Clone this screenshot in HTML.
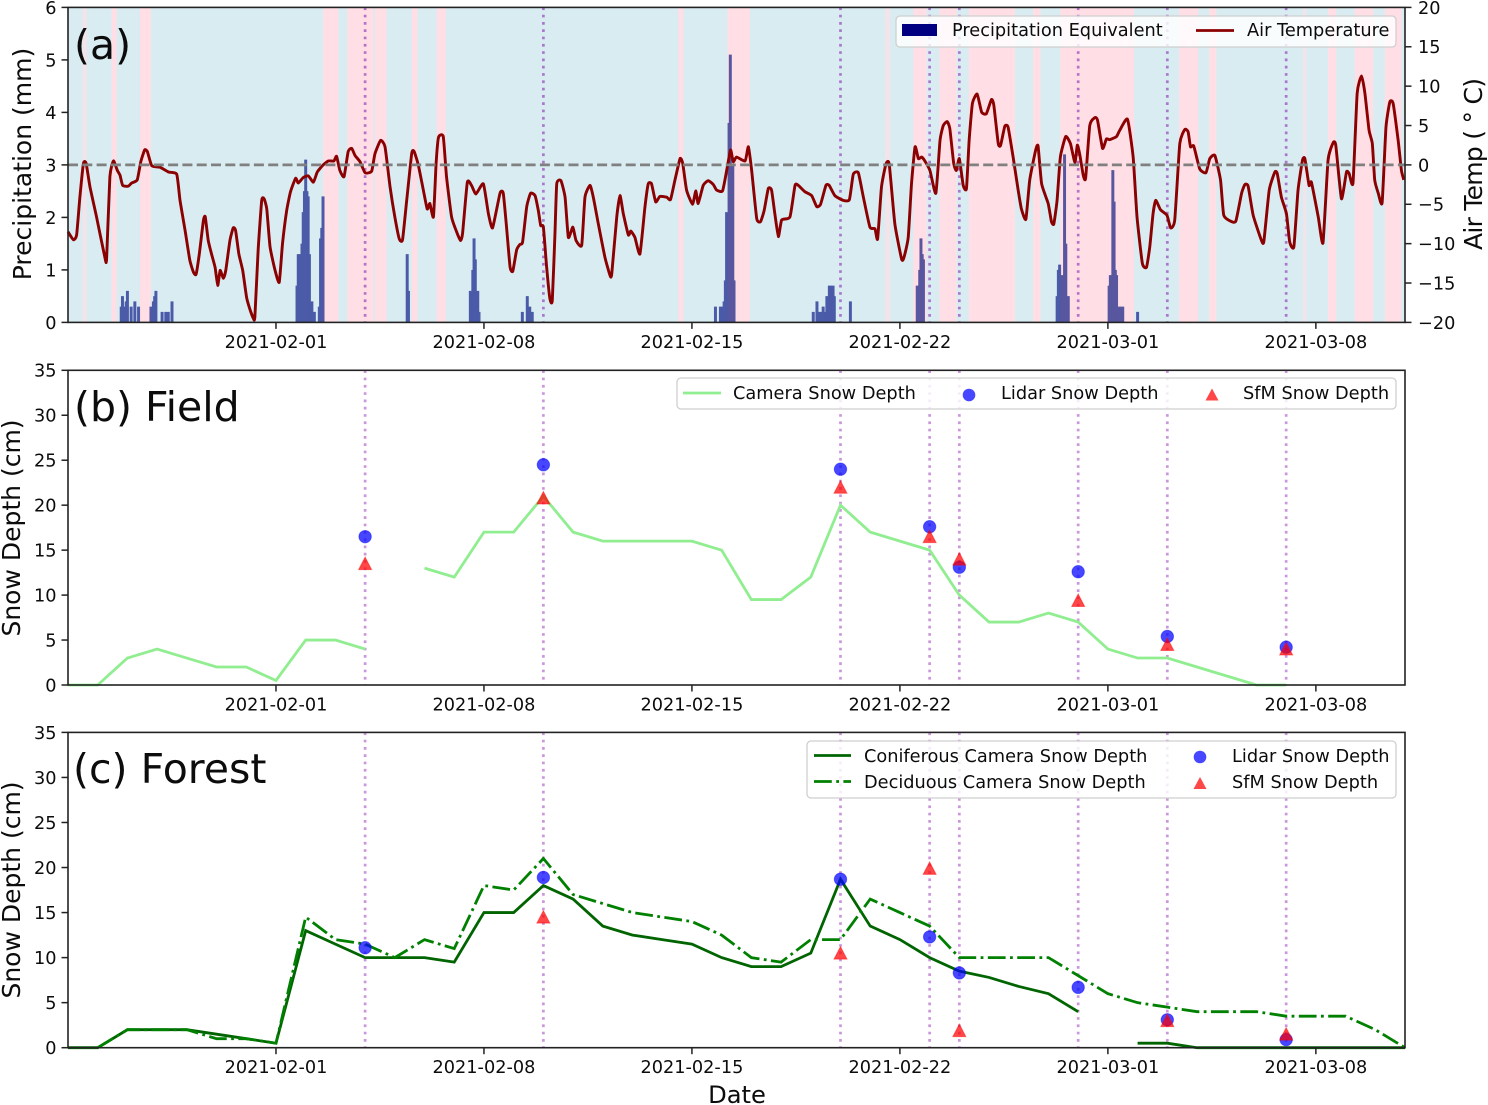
<!DOCTYPE html>
<html lang="en">
<head>
<meta charset="utf-8">
<title>Precipitation, air temperature and snow depth</title>
<style>
html,body{margin:0;padding:0;background:#fff;}
svg{display:block;font-family:"DejaVu Sans","Liberation Sans",sans-serif;fill:#0c0c0c;}
.tick{font-size:17.7px;}
.leg{font-size:17.75px;}
.ylab{font-size:25px;}
.ptitle{font-size:41px;}
</style>
</head>
<body>
<svg id="figure" width="1488" height="1105" viewBox="0 0 1488 1105" xmlns="http://www.w3.org/2000/svg">
  <g id="panel-a"></g>
  <g id="panel-b"></g>
  <g id="panel-c"></g>

  <text class="ptitle" x="74" y="59">(a)</text>
  <text class="ptitle" x="74" y="421">(b) Field</text>
  <text class="ptitle" x="73" y="783">(c) Forest</text>

  <text class="ylab" transform="translate(31,164) rotate(-90)" text-anchor="middle">Precipitation (mm)</text>
  <text class="ylab" transform="translate(1482,164) rotate(-90)" text-anchor="middle" textLength="172" lengthAdjust="spacing">Air Temp ( ° C)</text>
  <text class="ylab" transform="translate(20,528) rotate(-90)" text-anchor="middle">Snow Depth (cm)</text>
  <text class="ylab" transform="translate(20,890) rotate(-90)" text-anchor="middle">Snow Depth (cm)</text>
  <text class="ylab" style="font-size:24.2px" x="737" y="1103" text-anchor="middle">Date</text>

  <g>
    <rect x="896" y="16" width="500" height="31" rx="4" fill="#fff" fill-opacity="0.82" stroke="#cfcfcf" stroke-width="1.3"/>
    <rect x="902" y="24" width="35" height="12" fill="#000080"/>
    <text class="leg" x="952" y="36">Precipitation Equivalent</text>
    <line x1="1196" x2="1234" y1="30.5" y2="30.5" stroke="#8b0000" stroke-width="2.8"/>
    <text class="leg" x="1247" y="36">Air Temperature</text>
  </g>

  <g>
    <rect x="677" y="378" width="719" height="31" rx="4" fill="#fff" fill-opacity="0.82" stroke="#cfcfcf" stroke-width="1.3"/>
    <line x1="683" x2="721" y1="393" y2="393" stroke="#90ee90" stroke-width="2.8"/>
    <text class="leg" x="733" y="399">Camera Snow Depth</text>
    <circle cx="969" cy="395" r="6.3" fill="#0000ff" fill-opacity="0.72"/>
    <text class="leg" x="1001" y="399">Lidar Snow Depth</text>
    <path d="M1212 388.5L1218.5 400.5H1205.5Z" fill="#ff0000" fill-opacity="0.72"/>
    <text class="leg" x="1243" y="399">SfM Snow Depth</text>
  </g>

  <g>
    <rect x="807" y="741" width="589" height="57" rx="4" fill="#fff" fill-opacity="0.82" stroke="#cfcfcf" stroke-width="1.3"/>
    <line x1="814" x2="851" y1="755.5" y2="755.5" stroke="#006400" stroke-width="2.8"/>
    <text class="leg" x="864" y="762">Coniferous Camera Snow Depth</text>
    <line x1="814" x2="851" y1="781.5" y2="781.5" stroke="#008000" stroke-width="2.8" stroke-dasharray="17.8 4.4 2.8 4.4"/>
    <text class="leg" x="864" y="788">Deciduous Camera Snow Depth</text>
    <circle cx="1200" cy="757" r="6.3" fill="#0000ff" fill-opacity="0.72"/>
    <text class="leg" x="1232" y="762">Lidar Snow Depth</text>
    <path d="M1200 777L1206.5 789H1193.5Z" fill="#ff0000" fill-opacity="0.72"/>
    <text class="leg" x="1232" y="788">SfM Snow Depth</text>
  </g>
</svg>

<script>
// ---- shared axis data ----
const dateTickDays = [7, 14, 21, 28, 35, 42];
const dateTickLabels = ["2021-02-01", "2021-02-08", "2021-02-15", "2021-02-22", "2021-03-01", "2021-03-08"];
const surveyDays = [10, 16, 26, 29, 30, 34, 37, 41];
const precipTicks = [0, 1, 2, 3, 4, 5, 6];
const tempTicks = [-20, -15, -10, -5, 0, 5, 10, 15, 20];
const depthTicks = [0, 5, 10, 15, 20, 25, 30, 35];

// ---- panel (a): days since 2021-01-25 ----
const warmStart = [1.47, 2.42, 8.59, 9.40, 10.33, 11.57, 12.41, 20.54, 22.20, 28.45, 29.33, 30.32, 32.48, 33.40, 37.40, 38.41, 42.41, 43.31, 44.32];
const warmEnd   = [1.64, 2.79, 9.10, 10.28, 10.72, 11.76, 12.72, 20.71, 22.95, 28.90, 29.91, 31.87, 32.73, 35.88, 38.04, 38.65, 42.69, 43.93, 44.88];
const faintWarmStart = [0.49, 27.50, 41.57];
const faintWarmEnd = [0.63, 27.67, 41.68];

const tempDays = [
0,.18,.29,.4,.52,.61,.74,.96,1.25,1.3,
1.41,1.53,1.66,1.75,1.84,2.03,2.14,2.33,2.45,2.58,
2.67,2.82,3.1,3.38,3.66,3.77,3.94,4.1,4.22,4.31,
4.42,4.56,4.62,4.72,4.83,4.95,5.04,5.12,5.23,5.31,
5.45,5.56,5.64,5.75,5.88,6.01,6.12,6.24,6.29,6.4,
6.52,6.6,6.69,6.8,6.97,7.11,7.22,7.36,7.49,7.66,
7.75,7.92,8.09,8.26,8.39,8.59,8.76,8.95,9.04,9.15,
9.29,9.43,9.55,9.66,9.83,10,10.22,10.33,10.52,10.67,
10.84,11,11.15,11.26,11.4,11.57,11.65,11.79,11.96,12.09,
12.18,12.3,12.39,12.47,12.63,12.74,12.91,13.08,13.21,13.28,
13.44,13.58,13.73,13.98,14.15,14.29,14.54,14.65,14.76,14.88,
14.97,15.1,15.21,15.3,15.44,15.57,15.72,15.83,15.91,16,
16.11,16.22,16.3,16.39,16.45,16.59,16.73,16.84,16.99,17.1,
17.29,17.4,17.57,17.68,17.85,18.07,18.24,18.3,18.47,18.58,
18.69,18.86,18.94,19.08,19.25,19.42,19.53,19.64,19.78,19.92,
20.15,20.28,20.43,20.6,20.69,20.82,21.02,21.13,21.21,21.38,
21.55,21.72,21.83,22.03,22.17,22.3,22.39,22.5,22.79,22.9,
23.01,23.18,23.31,23.43,23.57,23.68,23.79,23.91,24.02,24.3,
24.47,24.58,24.8,25.03,25.2,25.33,25.51,25.62,25.81,26.09,
26.3,26.43,26.6,26.77,26.99,27.16,27.25,27.38,27.53,27.64,
27.83,28.06,28.14,28.28,28.39,28.51,28.62,28.73,28.84,29.01,
29.21,29.35,29.46,29.59,29.68,29.81,29.9,30,30.13,30.24,
30.33,30.44,30.6,30.75,30.91,31.08,31.16,31.31,31.39,31.53,
31.64,31.81,31.98,32.09,32.24,32.37,32.57,32.65,32.77,32.99,
33.1,33.18,33.29,33.4,33.58,33.74,33.89,33.97,34.05,34.17,
34.25,34.39,34.56,34.65,34.82,34.95,35.06,35.29,35.4,35.66,
35.85,35.98,36.16,36.3,36.41,36.52,36.61,36.77,36.99,37.11,
37.25,37.42,37.59,37.7,37.78,37.89,38.09,38.3,38.43,38.6,
38.79,38.9,39.16,39.31,39.5,39.61,39.72,39.89,40.17,40.25,
40.43,40.62,40.7,40.84,41.01,41.12,41.26,41.4,41.55,41.63,
41.77,41.85,42.08,42.24,42.41,42.58,42.67,42.86,43.03,43.12,
43.25,43.39,43.54,43.65,43.79,43.9,43.98,44.1,44.23,44.36,
44.49,44.6,44.77,44.88,44.96
];
const tempValues = [
-8.5,-9.5,-8.9,-4.1,.2,.2,-2.8,-6.6,-11.9,-11.9,
-1.5,.5,-.7,-1.3,-2.6,-2.7,-2.3,-1.9,.4,1.9,
1.7,-.1,-.3,-.9,-1.2,-4.5,-8.3,-12.1,-13.6,-13.9,
-11.3,-7,-6.6,-9.6,-11.3,-13,-15.3,-13.4,-14.4,-13.4,
-9.6,-8,-8.3,-11.3,-13.4,-16.8,-18.3,-19.5,-19.3,-10.8,
-4.5,-4.3,-5.6,-10.4,-13.4,-14.9,-10,-5.8,-3.4,-1.7,
-2.3,-1.6,-1.4,-2.2,-.9,0,.5,.5,1.1,-.7,
-1.5,1.7,2.1,1.2,.4,-1,-.8,1.4,3.1,2.3,
-2.8,-6.6,-9.4,-9.5,-4.5,1.5,1.7,0,-3.2,-5.6,
-4.9,-6.6,.2,3.5,3.6,-1.5,-6.6,-8.5,-9.6,-8.7,
-2.2,-2.6,-3.7,-2.4,-6.2,-8,-3.6,-3.6,-7.9,-13,
-13.5,-10.8,-10.1,-9.8,-5.3,-3.6,-3.9,-5.8,-7.7,-7.9,
-13,-17,-17.2,-8.7,-2.4,-2,-4.1,-9.2,-7.9,-9.6,
-10.2,-4.1,-2.6,-4.1,-7.5,-11.7,-14,-13.9,-6.6,-3.9,
-6.2,-8.9,-8.4,-9.2,-11.3,-5.3,-2.4,-2.4,-4.7,-4,
-4.1,-4.4,-1.9,.8,.2,-3.2,-5,-3.3,-4.9,-2.6,
-2,-2.5,-3.2,-3.3,-.7,1.9,.4,1,.5,2.3,
-.7,-6.8,-7.2,-5.8,-3,-3.2,-6.2,-9.1,-7,-6.6,
-2.6,-2.6,-3.4,-3.9,-5.3,-5,-2.6,-2.6,-3.9,-4.5,
-4.4,-1.2,-1,-4.1,-7.9,-8.1,-9.4,-2.8,.1,.1,
-7.5,-12,-11.7,-9.2,-2.4,2.3,.8,1,.5,-.7,
-3.6,3.1,5,5.5,4.6,.2,-.7,.8,-2.6,-3,
3.1,7.8,9,6.7,6.5,8.3,7.6,2.7,2.5,4.9,
4.8,1,-3.2,-5.6,-6.9,-1.9,1.9,2.4,-2.4,-4.9,
-7.2,-7.5,-4.5,1,3.6,2.7,.3,2.5,1.4,-1.3,
-1.7,5,6,5.7,2.1,3.3,3.2,3.6,4.4,5.8,
1,-6.6,-12.5,-13,-10.4,-6.2,-4.5,-5.7,-6.4,-8,
-7,2.7,4.5,4.2,2.3,2.4,-.5,-1,.8,1.2,
-1.9,-6.4,-7.2,-7.1,-3.6,-2.5,-2.7,-6.4,-9.6,-9.7,
-3.2,-.9,-1.1,-4.1,-6.2,-9.8,-10.4,-3.2,.6,.8,
-2.6,-2.2,-6.6,-9.9,.6,2.8,2.5,-4.3,-.9,-1.1,
-2.3,9.1,11.3,9.1,4.4,2.7,-1.9,-3.6,-4.8,4.8,
8,7.8,3.1,-.7,-1.9
];

// hour index since start of 2021-01-25 and precipitation equivalent (mm)
const precipHours = [
42,43,44,45,46,47,48,50,51,53,54,56,57,
66,67,68,69,70,71,75,76,78,79,80,81,83,84,
184,185,186,187,188,189,190,191,192,193,194,195,196,197,198,199,
202,203,204,205,206,
273,274,275,
324,325,326,327,328,329,330,331,332,
366,367,370,371,372,373,374,375,
522,523,526,527,528,529,530,531,532,533,534,535,536,537,538,
601,602,604,605,606,607,608,609,610,611,612,613,614,615,616,617,618,619,
631,632,
685,686,687,688,689,690,691,
798,799,800,801,802,803,804,805,806,807,808,
840,841,842,843,844,845,846,847,848,849,850,851,852,
863,864
];
const precipValues = [
.3,.5,.5,.3,.4,.6,.6,.3,.3,.4,.4,.3,.3,
.3,.3,.4,.5,.6,.6,.2,.2,.2,.2,.2,.2,.4,.4,
.7,1.3,1.3,1.3,1.5,2.1,2.5,3.1,3.1,2.5,2.4,1.3,.4,.4,.2,.2,
.3,1.6,1.8,2.4,2.4,
1.3,1.3,.6,
.6,.6,1,1.6,1.6,1.2,.6,.6,.2,
.2,.2,.5,.5,.3,.3,.2,.2,
.3,.3,.3,.3,.3,.4,.8,2.1,2.1,3.8,5.1,5.1,3,3,.8,
.2,.2,.4,.4,.2,.2,.2,.3,.3,.2,.5,.5,.7,.7,.7,.7,.7,.5,
.4,.4,
.7,.7,1,1.6,1.6,1.3,1.2,
.5,1,1.1,1.1,.9,.9,3.2,3.2,1.5,.5,.5,
.7,.9,.9,2.9,2.9,2.3,1,.9,.3,.3,.3,.3,.3,
.2,.2
];

// ---- panel (b) field ----
const fieldDaysEarly = [0,1,2,3,4,5,6,7,8,9,10];
const fieldDepthEarly = [0,0,3,4,3,2,2,.5,5,5,4];
const fieldDaysLate = [12,13,14,15,16,17,18,19,20,21,22,23,24,25,26,27,28,29,30,31,32,33,34,35,36,37,38,39,40,41];
const fieldDepthLate = [13,12,17,17,21,17,16,16,16,16,15,9.5,9.5,12,20,17,16,15,10,7,7,8,7,4,3,3,2,1,0,0];
const fieldLidar = [16.5,24.5,24,17.6,13.1,12.6,5.4,4.2];
const fieldSfm = [13.5,20.8,22,16.5,14,9.4,4.5,4];

// ---- panel (c) forest ----
const coniferDaysEarly = [0,1,2,3,4,5,6,7,8,9,10,11,12,13,14,15,16,17,18,19,20,21,22,23,24,25,26,27,28,29,30,31,32,33,34];
const coniferDepthEarly = [0,0,2,2,2,1.5,1,.5,13,11.5,10,10,10,9.5,15,15,18,16.5,13.5,12.5,12,11.5,10,9,9,10.5,18.7,13.5,12,10,8.5,7.8,6.8,6,4];
const coniferDaysLate = [36,37,38,39,40,41,42,43,44,45];
const coniferDepthLate = [.5,.5,0,0,0,0,0,0,0,0];
const deciduousDays = [1,2,3,4,5,6,7,8,9,10,11,12,13,14,15,16,17,18,19,20,21,22,23,24,25,26,27,28,29,30,31,32,33,34,35,36,37,38,39,40,41,42,43,44,45];
const deciduousDepth = [0,2,2,2,1,1,.5,14.5,12,11.5,10,12,11,18,17.5,21,17,16,15,14.5,14,12.5,10,9.5,12,12,16.5,15,13.5,10,10,10,10,8,6,5,4.5,4,4,4,3.5,3.5,3.5,2,0];
const forestLidarDays = [10,16,26,29,30,34,37,41];
const forestLidar = [11.1,18.9,18.7,12.3,8.3,6.7,3.1,.9];
const forestSfmDays = [16,26,29,30,37,41];
const forestSfm = [14.5,10.5,19.9,1.9,3,1.5];

// ---- scales ----
const NS = "http://www.w3.org/2000/svg";
const plotLeft = 68, plotRight = 1405, dayCount = 45;
const xDay = d => plotLeft + d * (plotRight - plotLeft) / dayCount;
const yScale = (top, bottom, lo, hi) => v => bottom - (v - lo) * (bottom - top) / (hi - lo);
const panelTop = { a: 7.4, b: 370.3, c: 732.4 };
const panelBottom = { a: 322.4, b: 685, c: 1047.7 };
const yPrecip = yScale(panelTop.a, panelBottom.a, 0, 6);
const yTemp = yScale(panelTop.a, panelBottom.a, -20, 20);
const yField = yScale(panelTop.b, panelBottom.b, 0, 35);
const yForest = yScale(panelTop.c, panelBottom.c, 0, 35);

function add(parent, tag, attrs, text) {
  const el = document.createElementNS(NS, tag);
  for (const k in attrs) el.setAttribute(k, attrs[k]);
  if (text !== undefined) el.textContent = text;
  parent.appendChild(el);
  return el;
}
function pts(xs, ys, yf) {
  return xs.map((d, i) => xDay(d).toFixed(2) + "," + yf(ys[i]).toFixed(2)).join(" ");
}
function smoothPath(xs, ys, yf) {
  const P = xs.map((d, i) => [xDay(d), yf(ys[i])]);
  let s = "M" + P[0][0].toFixed(2) + " " + P[0][1].toFixed(2);
  for (let i = 0; i < P.length - 1; i++) {
    const p0 = P[Math.max(i - 1, 0)], p1 = P[i], p2 = P[i + 1], p3 = P[Math.min(i + 2, P.length - 1)];
    const c1x = p1[0] + (p2[0] - p0[0]) / 12, c1y = p1[1] + (p2[1] - p0[1]) / 12;
    const c2x = p2[0] - (p3[0] - p1[0]) / 12, c2y = p2[1] - (p3[1] - p1[1]) / 12;
    s += "C" + c1x.toFixed(2) + " " + c1y.toFixed(2) + " " + c2x.toFixed(2) + " " + c2y.toFixed(2) + " " + p2[0].toFixed(2) + " " + p2[1].toFixed(2);
  }
  return s;
}

const panelA = document.getElementById("panel-a");
const panelB = document.getElementById("panel-b");
const panelC = document.getElementById("panel-c");

// panel (a) background
const bgBase = add(panelA, "rect", { x: plotLeft, y: panelTop.a, width: plotRight - plotLeft, height: panelBottom.a - panelTop.a, fill: "#d9ecf2" });


warmStart.forEach((s, i) => {
  const el = add(panelA, "rect", { x: xDay(s), y: panelTop.a, width: xDay(warmEnd[i]) - xDay(s), height: panelBottom.a - panelTop.a, fill: "#ffdfe5" });
  
  
});
faintWarmStart.forEach((s, i) => {
  const el = add(panelA, "rect", { x: xDay(s), y: panelTop.a, width: xDay(faintWarmEnd[i]) - xDay(s), height: panelBottom.a - panelTop.a, fill: "#f3e4ea" });
  
  
});

// precipitation bars (opaque inside a multiply-blended group, so neighbours do not show seams)
const barGroup = add(panelA, "g", { style: "mix-blend-mode:multiply" });


precipHours.forEach((h, i) => {
  const x0 = xDay(h / 24), x1 = xDay((h + 1) / 24), yv = yPrecip(precipValues[i]);
  const el = add(barGroup, "rect", { x: (x0 - 0.25).toFixed(2), y: yv.toFixed(2), width: (x1 - x0 + 0.5).toFixed(2), height: (panelBottom.a - yv).toFixed(2), fill: "#5862b1" });
  
  
});

// survey date lines
[[panelA, "a"], [panelB, "b"], [panelC, "c"]].forEach(([g, key]) => {
  surveyDays.forEach(d => {
    const el = add(g, "line", { x1: xDay(d), x2: xDay(d), y1: panelTop[key], y2: panelBottom[key], stroke: key === "a" ? "#8a2fb5" : "#a040c0", "stroke-opacity": key === "a" ? 0.62 : 0.55, "stroke-width": 2.7, "stroke-dasharray": "2.7 4.6" });
    
    
  });
});

// air temperature + zero reference
const tempLine = add(panelA, "path", { d: smoothPath(tempDays, tempValues, yTemp), fill: "none", stroke: "#8b0000", "stroke-width": 2.9, "stroke-linejoin": "round" });


const zeroLine = add(panelA, "line", { x1: plotLeft, x2: plotRight, y1: yTemp(0), y2: yTemp(0), stroke: "#808080", "stroke-width": 2.8, "stroke-dasharray": "10 4.3" });



// panel (b) marks
const fieldA = add(panelB, "polyline", { points: pts(fieldDaysEarly, fieldDepthEarly, yField), fill: "none", stroke: "#90ee90", "stroke-width": 2.8 });


const fieldB = add(panelB, "polyline", { points: pts(fieldDaysLate, fieldDepthLate, yField), fill: "none", stroke: "#90ee90", "stroke-width": 2.8 });



// panel (c) lines
const conA = add(panelC, "polyline", { points: pts(coniferDaysEarly, coniferDepthEarly, yForest), fill: "none", stroke: "#006400", "stroke-width": 2.8 });


const conB = add(panelC, "polyline", { points: pts(coniferDaysLate, coniferDepthLate, yForest), fill: "none", stroke: "#006400", "stroke-width": 2.8 });


const decLine = add(panelC, "polyline", { points: pts(deciduousDays, deciduousDepth, yForest), fill: "none", stroke: "#008000", "stroke-width": 2.8, "stroke-dasharray": "17.8 4.4 2.8 4.4" });



// markers
function lidarDot(g, d, v, yf) {
  const el = add(g, "circle", { cx: xDay(d), cy: yf(v), r: 6.2, fill: "#0000ff", "fill-opacity": 0.72, stroke: "#0000ff", "stroke-opacity": 0.45, "stroke-width": 1 });
  
  
}
function sfmTri(g, d, v, yf) {
  const cx = xDay(d), cy = yf(v);
  const el = add(g, "polygon", { points: `${cx},${cy - 6.5} ${cx + 6.5},${cy + 6} ${cx - 6.5},${cy + 6}`, fill: "#ff0000", "fill-opacity": 0.72, stroke: "#ff0000", "stroke-opacity": 0.45, "stroke-width": 1 });
  
  
}
surveyDays.forEach((d, i) => lidarDot(panelB, d, fieldLidar[i], yField));
surveyDays.forEach((d, i) => sfmTri(panelB, d, fieldSfm[i], yField));
forestLidarDays.forEach((d, i) => lidarDot(panelC, d, forestLidar[i], yForest));
forestSfmDays.forEach((d, i) => sfmTri(panelC, d, forestSfm[i], yForest));

// axes
function frame(g, key, label) {
  const f = add(g, "rect", { x: plotLeft, y: panelTop[key], width: plotRight - plotLeft, height: panelBottom[key] - panelTop[key], fill: "none", stroke: "#222", "stroke-width": 1.6 });
  
  
  dateTickDays.forEach((d, i) => {
    const t = add(g, "line", { x1: xDay(d), x2: xDay(d), y1: panelBottom[key], y2: panelBottom[key] + 6.5, stroke: "#222", "stroke-width": 1.5 });
    
    
    const lab = add(g, "text", { class: "tick", x: xDay(d), y: panelBottom[key] + 25.5, "text-anchor": "middle" }, dateTickLabels[i]);
    
    
  });
}
function yTicks(g, values, yf, side) {
  values.forEach(v => {
    const yp = yf(v);
    const t = add(g, "line", side === "left"
      ? { x1: plotLeft - 6.5, x2: plotLeft, y1: yp, y2: yp, stroke: "#222", "stroke-width": 1.5 }
      : { x1: plotRight, x2: plotRight + 6.5, y1: yp, y2: yp, stroke: "#222", "stroke-width": 1.5 });
    
    
    const txt = String(v).replace("-", "\u2212");
    const lab = add(g, "text", side === "left"
      ? { class: "tick", x: plotLeft - 11.5, y: yp + 6.4, "text-anchor": "end" }
      : { class: "tick", x: plotRight + 13, y: yp + 6.4 }, txt);
    
    
  });
}
frame(panelA, "a", "panel-a");
frame(panelB, "b", "panel-b");
frame(panelC, "c", "panel-c");
yTicks(panelA, precipTicks, yPrecip, "left");
yTicks(panelA, tempTicks, yTemp, "right");
yTicks(panelB, depthTicks, yField, "left");
yTicks(panelC, depthTicks, yForest, "left");
</script>
</body>
</html>
